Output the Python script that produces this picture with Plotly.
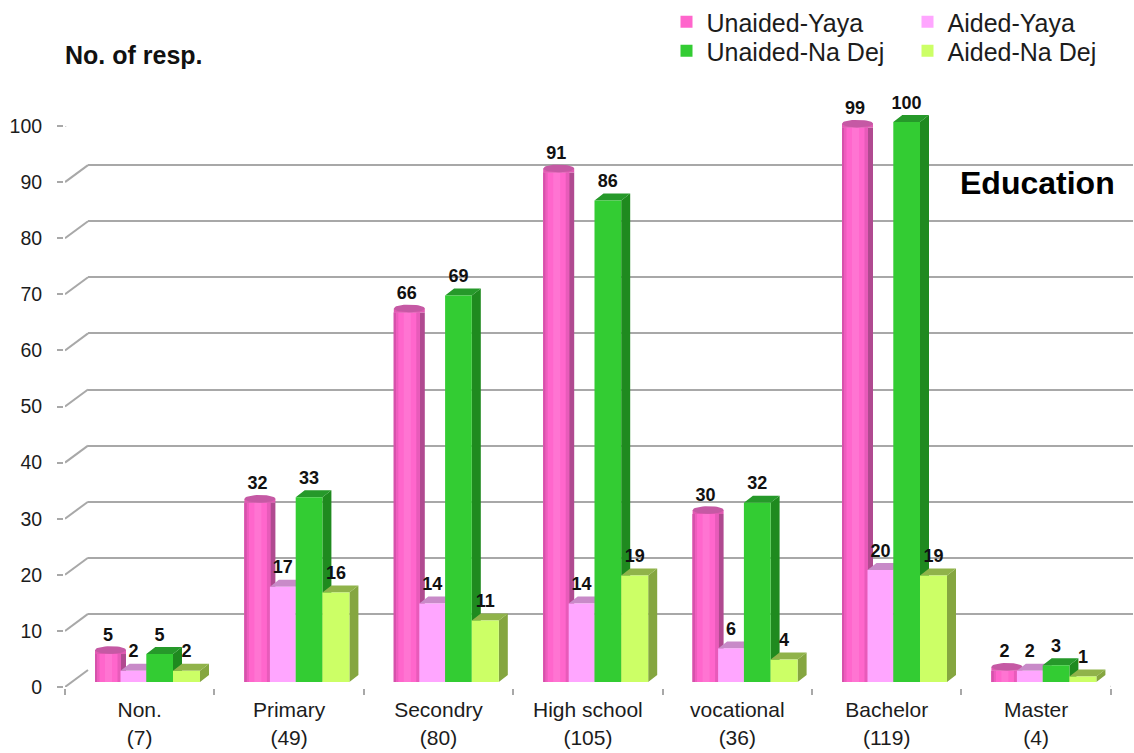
import numpy as np
import plotly.graph_objects as go

# Survey counts by education level
categories = ["Non.<br>(7)", "Primary<br>(49)", "Secondry<br>(80)", "High school<br>(105)",
              "vocational<br>(36)", "Bachelor<br>(119)", "Master<br>(4)"]
unaided_yaya = [5, 32, 66, 91, 30, 99, 2]
aided_yaya = [2, 17, 14, 14, 6, 20, 2]
unaided_na_dej = [5, 33, 69, 86, 32, 100, 3]
aided_na_dej = [2, 16, 11, 19, 4, 19, 1]
y_ticks = list(range(0, 101, 10))

W, H = 1134, 753
GRID = "#a8a8a8"
TEXT = "#1c1c1c"
FONT = "Liberation Sans"
CAT_PX = 149.4      # pixels per category
UNIT_PX = 5.6       # pixels per count


def xdom(a, b):
    return [a / W, b / W]


def ydom(bottom, top):
    return [1 - bottom / H, 1 - top / H]


def px_x(p):
    return p / CAT_PX


def px_y(p):
    return p / UNIT_PX


fig = go.Figure()
z = [0]


def next_z():
    z[0] += 1
    return z[0]


def polygons(rings, color):
    xs, ys = [], []
    for ring in rings:
        xs += [p[0] for p in ring] + [ring[0][0], None]
        ys += [p[1] for p in ring] + [ring[0][1], None]
    fig.add_trace(go.Scatter(x=xs, y=ys, mode="lines", fill="toself", fillcolor=color,
                             line=dict(width=0), hoverinfo="skip", showlegend=False,
                             cliponaxis=False, xaxis="x3", yaxis="y3", zorder=next_z()))


def bar_layer(values, left, width, color, name=None, legend=None):
    fig.add_trace(go.Bar(x=list(range(len(values))), y=values, offset=px_x(left), width=px_x(width),
                         marker=dict(color=color, line=dict(width=0)),
                         name=name or "", showlegend=name is not None, legend=legend,
                         xaxis="x3", yaxis="y3", zorder=next_z()))


def box_series(values, left, width, front, side, top, name, legend):
    # Flat-faced column: right side and top faces follow the value, the front is a bar
    dx, dy = px_x(9), px_y(7)
    xl = [i + px_x(left) for i in range(len(values))]
    xr = [a + px_x(width) for a in xl]
    polygons([[(r, 0), (r, v), (r + dx, v + dy), (r + dx, dy)] for r, v in zip(xr, values)], side)
    polygons([[(l, v), (r, v), (r + dx, v + dy), (l + dx, v + dy)]
              for l, r, v in zip(xl, xr, values)], top)
    bar_layer(values, left, width, front, name, legend)


def cylinder_series(values, left, name, legend):
    # Round column: vertical shading bands topped by an elliptical cap
    bar_layer(values, left, 31, "#b04a90")
    bar_layer(values, left, 26, "#ff66cc", name, legend)
    bar_layer(values, left, 2.5, "#d652ab")
    bar_layer(values, left + 2.5, 2, "#ee5dbd")
    bar_layer(values, left + 10, 7, "#ff74d2")
    bar_layer(values, left + 22.5, 3.5, "#e85bba")
    xl = [i + px_x(left) for i in range(len(values))]
    rise = px_y(4)
    polygons([[(l, v), (l + px_x(31), v), (l + px_x(31), v + rise), (l, v + rise)]
              for l, v in zip(xl, values)], "#e05ab2")
    t = np.linspace(0, 2 * np.pi, 40)
    polygons([[(l + px_x(15.5 + 15.5 * c), v + rise + px_y(3.8 * s))
               for c, s in zip(np.cos(t), np.sin(t))]
              for l, v in zip(xl, values)], "#c559a4")


# Back wall: gridlines live on their own axes, pushed up and to the right
fig.update_layout(
    xaxis=dict(domain=xdom(88, 1133), range=[0, 7], visible=False, showgrid=False),
    yaxis=dict(domain=ydom(670, 109), range=[0, 100], anchor="x", tickmode="array", tickvals=y_ticks,
               showgrid=True, gridcolor=GRID, gridwidth=2, zeroline=False, showline=False,
               ticks="", showticklabels=False),
)
fig.add_trace(go.Scatter(x=[0, 7], y=[0, 0], mode="lines", line=dict(width=0), hoverinfo="skip",
                         showlegend=False, xaxis="x", yaxis="y"))

# Left wall and floor edges joining the front axes to the back wall
wall_x, wall_y = [], []
for v in y_ticks:
    wall_x += [0, 23 / CAT_PX, None]
    wall_y += [v, v + 17 / 5.61, None]
wall_x += [7, 7 + 23 / CAT_PX, None]
wall_y += [0, 17 / 5.61, None]
fig.add_trace(go.Scatter(x=wall_x, y=wall_y, mode="lines", line=dict(color=GRID, width=2),
                         hoverinfo="skip", showlegend=False, cliponaxis=False,
                         xaxis="x2", yaxis="y2"))

# Columns, back to front within each group
cylinder_series(unaided_yaya, 22, "Unaided-Yaya", "legend")
box_series(aided_yaya, 47.5, 25.8, "#ffa6ff", "#b884b8", "#c88ac8", "Aided-Yaya", "legend2")
box_series(unaided_na_dej, 73.3, 26.7, "#33cc33", "#1f8a1f", "#26992a", "Unaided-Na Dej", "legend3")
box_series(aided_na_dej, 100, 27, "#ccff66", "#85a640", "#90b34a", "Aided-Na Dej", "legend4")

# Value labels above each column
centers = [35, 60.4, 86.6, 113.5]
for vals, c in zip([unaided_yaya, aided_yaya, unaided_na_dej, aided_na_dej], centers):
    fig.add_trace(go.Scatter(x=[i + px_x(c) for i in range(len(vals))],
                             y=[v + px_y(9) for v in vals],
                             text=[str(v) for v in vals], mode="text", textposition="top center",
                             textfont=dict(family=FONT, size=18, color="#111111", weight="bold"),
                             hoverinfo="skip", showlegend=False, cliponaxis=False,
                             xaxis="x3", yaxis="y3", zorder=100))


def legend_entry(left, row_center):
    # One swatch and label pinned to the page
    return dict(x=left / W, y=1 - row_center / H, xanchor="left", yanchor="middle",
                orientation="v", indentation=-7,
                bgcolor="rgba(0,0,0,0)", font=dict(size=25, color=TEXT), itemclick=False)


fig.update_layout(
    width=W, height=H,
    margin=dict(l=0, r=0, t=0, b=0, autoexpand=False),
    paper_bgcolor="white", plot_bgcolor="rgba(0,0,0,0)",
    barmode="overlay",
    font=dict(family=FONT, color=TEXT),
    # Front axes carrying the tick marks and labels
    xaxis2=dict(domain=xdom(65, 1110.8), range=[0, 7], anchor="y2", tickmode="array",
                tickvals=[i + 0.5 for i in range(7)], ticktext=categories, ticks="", ticklen=0,
                tickangle=0, tickfont=dict(size=21, color=TEXT), ticklabelstandoff=3,
                minor=dict(tickmode="array", tickvals=list(range(8)), ticks="outside", ticklen=6,
                           tickcolor=GRID, tickwidth=2),
                showline=True, linecolor=GRID, linewidth=2, showgrid=False, zeroline=False),
    yaxis2=dict(domain=ydom(687, 126), range=[0, 100], anchor="x2", tickmode="array", tickvals=y_ticks,
                ticks="outside", ticklen=6, tickcolor=GRID, tickwidth=2,
                tickfont=dict(size=19.5, color=TEXT), ticklabelstandoff=11,
                showline=True, linecolor=GRID, linewidth=2, showgrid=False, zeroline=False),
    # Axes for the columns, set forward on the floor
    xaxis3=dict(domain=xdom(73, 1118.8), range=[0, 7], anchor="y3", visible=False),
    yaxis3=dict(domain=ydom(682, 682 - 105 * UNIT_PX), range=[0, 105], anchor="x3", visible=False),
    legend=legend_entry(673.5, 22),
    legend2=legend_entry(914.5, 22),
    legend3=legend_entry(673.5, 51),
    legend4=legend_entry(914.5, 51),
    annotations=[
        dict(text="<b>No. of resp.</b>", xref="paper", yref="paper", x=63 / W, y=1 - 55 / H,
             xanchor="left", yanchor="middle", showarrow=False, font=dict(size=25, color="#111111")),
        dict(text="<b>Education</b>", xref="paper", yref="paper", x=958 / W, y=1 - 183 / H,
             xanchor="left", yanchor="middle", showarrow=False, font=dict(size=32, color="#000000")),
    ],
)

fig.write_html("out.html")
